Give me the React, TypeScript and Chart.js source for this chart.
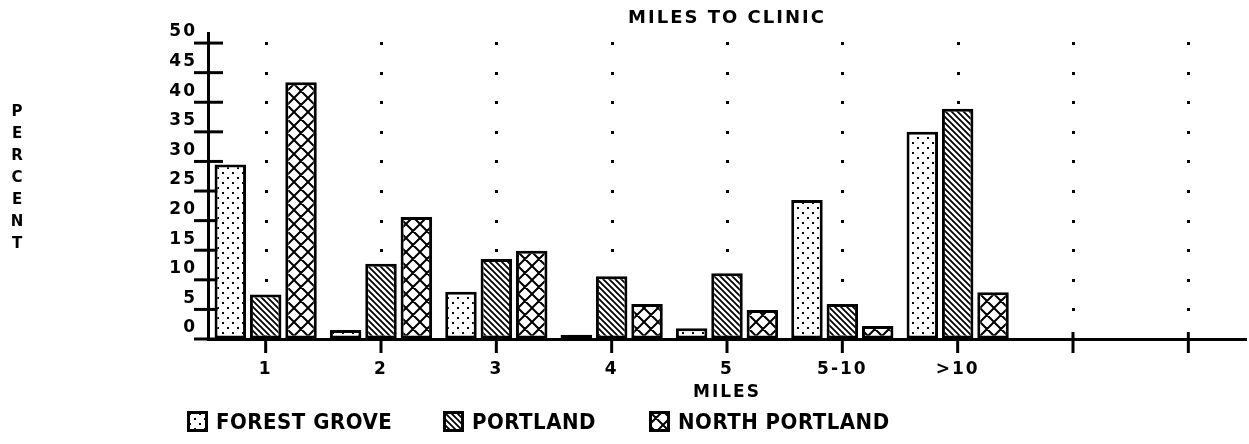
import React, { useEffect, useRef } from 'react';
import { Chart, registerables } from 'chart.js';

Chart.register(...registerables);

// ---- data ----
const categories = ['1', '2', '3', '4', '5', '5-10', '>10', '', ''];
const forestGrove = [29.5, 1.5, 8, 0.7, 1.8, 23.5, 35, null, null];
const portland = [7.5, 12.7, 13.5, 10.6, 11.1, 5.9, 38.9, null, null];
const northPortland = [43.4, 20.6, 14.9, 5.9, 4.9, 2.2, 7.9, null, null];
const seriesNames = ['FOREST GROVE', 'PORTLAND', 'NORTH PORTLAND'];
const yTickValues = [0, 5, 10, 15, 20, 25, 30, 35, 40, 45, 50];
const chartTitle = 'MILES TO CLINIC';
const xTitle = 'MILES';
const yTitle = 'PERCENT';

const FONT = '"DejaVu Sans", sans-serif';

type TileDraw = (g: CanvasRenderingContext2D, s: number) => void;

function makePattern(size: number, draw: TileDraw): CanvasPattern {
  const c = document.createElement('canvas');
  c.width = size;
  c.height = size;
  const g = c.getContext('2d')!;
  g.fillStyle = '#fff';
  g.fillRect(0, 0, size, size);
  g.fillStyle = '#000';
  g.strokeStyle = '#000';
  draw(g, size);
  return g.createPattern(c, 'repeat')!;
}

const dotPattern = () =>
  makePattern(10, (g) => {
    g.fillRect(2, 2, 2, 2);
    g.fillRect(7, 7, 2, 2);
  });

const hatchPattern = () =>
  makePattern(6, (g, s) => {
    g.lineWidth = 1.8;
    g.beginPath();
    for (const k of [-s, 0, s]) {
      g.moveTo(k - 1, -1);
      g.lineTo(k + s + 1, s + 1);
    }
    g.stroke();
  });

const crossPattern = () =>
  makePattern(14, (g, s) => {
    g.lineWidth = 2;
    g.beginPath();
    for (const k of [-s, 0, s]) {
      g.moveTo(k - 1, -1);
      g.lineTo(k + s + 1, s + 1);
      g.moveTo(k + s + 1, -1);
      g.lineTo(k - 1, s + 1);
    }
    g.stroke();
  });

const decorPlugin = {
  id: 'decor',
  beforeDraw(chart: any) {
    (chart.ctx as any).letterSpacing = '2px';
  },
  beforeDatasetsDraw(chart: any) {
    const { ctx, chartArea, scales } = chart;
    const x = scales.x;
    const y = scales.y;
    ctx.save();
    ctx.fillStyle = '#000';
    // dotted vertical guides at each category, one dot per y tick
    x.ticks.forEach((_: any, i: number) => {
      const px = x.getPixelForTick(i);
      yTickValues.forEach((v) => {
        if (v === 0) return;
        const py = y.getPixelForValue(v);
        ctx.fillRect(Math.round(px) - 1, Math.round(py) - 1, 3, 3);
      });
    });
    ctx.strokeStyle = '#000';
    ctx.lineWidth = 3;
    // y tick marks crossing the axis
    yTickValues.forEach((v) => {
      const py = y.getPixelForValue(v);
      ctx.beginPath();
      ctx.moveTo(chartArea.left - 14, py);
      ctx.lineTo(chartArea.left + 15, py);
      ctx.stroke();
    });
    // x tick marks crossing the baseline
    x.ticks.forEach((_: any, i: number) => {
      const px = x.getPixelForTick(i);
      ctx.beginPath();
      ctx.moveTo(px, chartArea.bottom - 7);
      ctx.lineTo(px, chartArea.bottom + 14);
      ctx.stroke();
    });
    ctx.restore();
  },
};

export default function App() {
  const canvasRef = useRef<HTMLCanvasElement>(null);
  const swatchRefs = useRef<(HTMLCanvasElement | null)[]>([]);

  useEffect(() => {
    const patterns = [dotPattern(), hatchPattern(), crossPattern()];
    const seriesData = [forestGrove, portland, northPortland];

    const ds = seriesData.map((data, i) => ({
      label: seriesNames[i],
      data,
      backgroundColor: patterns[i],
      borderColor: '#000',
      borderWidth: 3,
      borderSkipped: false,
      categoryPercentage: 0.92,
      barPercentage: 0.89,
    }));

    const tickFont = { family: FONT, weight: 'bold' as const, size: 17 };

    const chart = new Chart(canvasRef.current!, {
      type: 'bar',
      data: { labels: categories, datasets: ds as any },
      options: {
        responsive: false,
        animation: false,
        layout: { padding: { left: 0, right: 3, top: 0, bottom: 0 } },
        plugins: {
          legend: { display: false },
          tooltip: { enabled: false },
          title: {
            display: true,
            text: chartTitle,
            color: '#000',
            fullSize: false,
            font: { family: FONT, weight: 'bold', size: 18 },
            padding: { top: 8, bottom: 3.4 },
          },
        },
        scales: {
          x: {
            grid: { drawOnChartArea: false, drawTicks: false, color: 'rgba(0,0,0,0)' },
            border: { display: true, color: '#000', width: 3 },
            ticks: {
              color: '#000',
              font: tickFont,
              padding: 20,
              maxRotation: 0,
              autoSkip: false,
            },
            title: {
              display: true,
              text: xTitle,
              color: '#000',
              font: { family: FONT, weight: 'bold', size: 17 },
              padding: { top: 0, bottom: 41 },
            },
            afterFit: (s: any) => {
              s.height = 105;
            },
          },
          y: {
            min: 0,
            max: 51.7,
            grid: { drawOnChartArea: false, drawTicks: false, color: 'rgba(0,0,0,0)' },
            border: { display: true, color: '#000', width: 3 },
            ticks: {
              stepSize: 5,
              includeBounds: false,
              padding: 11,
              labelOffset: -11,
              color: '#000',
              font: tickFont,
            },
            afterFit: (s: any) => {
              s.width = 208;
            },
          },
        },
      },
      plugins: [decorPlugin],
    });

    swatchRefs.current.forEach((c, i) => {
      if (!c) return;
      const g = c.getContext('2d')!;
      g.fillStyle = patterns[i];
      g.fillRect(0, 0, c.width, c.height);
      g.strokeStyle = '#000';
      g.lineWidth = 3;
      g.strokeRect(1.5, 1.5, c.width - 3, c.height - 3);
    });

    return () => chart.destroy();
  }, []);

  const legendLefts = [187, 443, 649];

  return (
    <div style={{ position: 'absolute', left: 0, top: 0, width: 1249, height: 444, background: '#fff' }}>
      <canvas ref={canvasRef} width={1249} height={444} style={{ display: 'block' }} />
      <div style={{ position: 'absolute', left: 6, top: 102, width: 22 }}>
        {yTitle.split('').map((ch, i) => (
          <div
            key={i}
            style={{
              height: 22,
              lineHeight: '22px',
              textAlign: 'center',
              font: `bold 15px ${FONT}`,
              color: '#000',
            }}
          >
            {ch}
          </div>
        ))}
      </div>
      {seriesNames.map((name, i) => (
        <div
          key={name}
          style={{
            position: 'absolute',
            left: legendLefts[i],
            top: 410,
            height: 23,
            display: 'flex',
            alignItems: 'center',
            whiteSpace: 'nowrap',
          }}
        >
          <canvas
            ref={(el) => {
              swatchRefs.current[i] = el;
            }}
            width={21}
            height={21}
            style={{ display: 'block' }}
          />
          <span
            style={{
              marginLeft: 8,
              font: `bold 22px "DejaVu Sans Condensed", "DejaVu Sans", sans-serif`,
              fontStretch: 'condensed',
              lineHeight: '23px',
              letterSpacing: '0.5px',
              color: '#000',
            }}
          >
            {name}
          </span>
        </div>
      ))}
    </div>
  );
}
